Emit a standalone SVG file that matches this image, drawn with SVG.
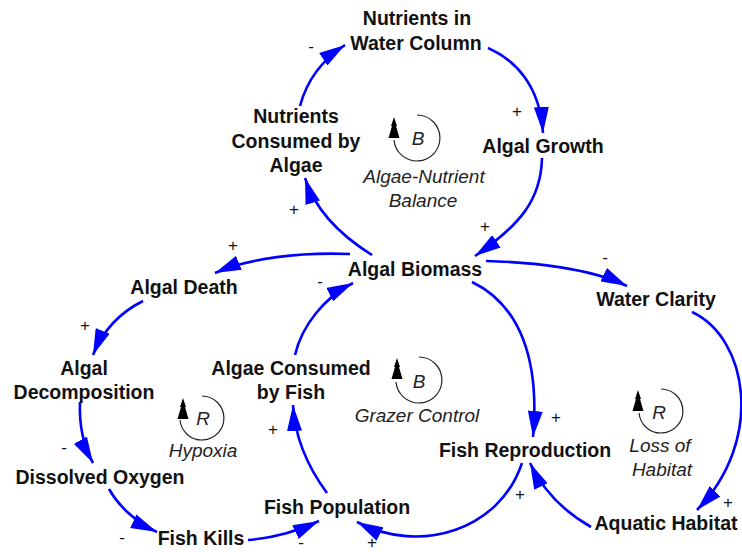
<svg xmlns="http://www.w3.org/2000/svg" width="742" height="552" viewBox="0 0 742 552">
  <defs>
    <marker id="head" markerUnits="userSpaceOnUse" markerWidth="26" markerHeight="15" viewBox="0 0 26 15" refX="26" refY="7.5" orient="auto">
      <path d="M0,0 L26,7.5 L0,15 Z" fill="#0000ff"/>
    </marker>
    <!-- small black arrow used by the loop markers -->
    <polygon id="loopHead" points="0,0 -3,9 -2,9 -5.5,21 5.5,21 2,9 3,9" fill="#000"/>
  </defs>
  <style>
    .node { font-family: "Liberation Sans", Arial, sans-serif; font-weight: bold; font-size: 19.5px; fill: #111; text-anchor: middle; }
    .loop { font-family: "Liberation Sans", Arial, sans-serif; font-style: italic; font-size: 19px; fill: #222; text-anchor: middle; }
    .sign { font-family: "Liberation Sans", Arial, sans-serif; font-size: 17px; fill: #111; text-anchor: middle; }
    .link { fill: none; stroke: #0000ff; stroke-width: 2.6; marker-end: url(#head); }
    .ring { fill: none; stroke: #222; stroke-width: 1.2; }
  </style>
  <rect width="742" height="552" fill="#fff"/>

  <!-- causal links -->
  <g id="connectors">
    <path class="link" d="M300,106 Q310,68 345,45"/>
    <path class="link" d="M488,48 C515,60 540,85 543,133"/>
    <path class="link" d="M542,158 C541,200 520,225 475,256"/>
    <path class="link" d="M372,255 C340,235 315,210 305,178"/>
    <path class="link" d="M350,254 C300,252 250,258 215,273"/>
    <path class="link" d="M143,301 C125,310 105,325 93,355"/>
    <path class="link" d="M80,402 C79,425 83,445 93,463"/>
    <path class="link" d="M109,489 C118,505 135,522 157,532"/>
    <path class="link" d="M248,540 C275,538 300,530 319,521"/>
    <path class="link" d="M327,493 C310,470 295,440 293,405"/>
    <path class="link" d="M295,355 C302,325 325,297 353,283"/>
    <path class="link" d="M472,282 C520,305 540,360 533,437"/>
    <path class="link" d="M522,463 C500,530 420,555 357,522"/>
    <path class="link" d="M486,261 C530,262 590,268 627,286"/>
    <path class="link" d="M692,312 C748,338 765,440 697,510"/>
    <path class="link" d="M591,527 C570,515 545,495 530,463"/>
  </g>

  <!-- link polarities -->
  <g id="polarities">
    <text class="sign" x="311" y="52">-</text>
    <text class="sign" x="517" y="117">+</text>
    <text class="sign" x="485" y="232">+</text>
    <text class="sign" x="294" y="215">+</text>
    <text class="sign" x="233" y="251">+</text>
    <text class="sign" x="85" y="331">+</text>
    <text class="sign" x="64" y="453">-</text>
    <text class="sign" x="122" y="543">-</text>
    <text class="sign" x="301" y="548">-</text>
    <text class="sign" x="273" y="435">+</text>
    <text class="sign" x="320" y="287">-</text>
    <text class="sign" x="556" y="423">+</text>
    <text class="sign" x="520" y="500">+</text>
    <text class="sign" x="372" y="548">+</text>
    <text class="sign" x="605" y="263">-</text>
    <text class="sign" x="728" y="508">+</text>
  </g>

  <!-- variables -->
  <g id="nutrients-water"><text class="node" x="417" y="25">Nutrients in</text><text class="node" x="416" y="50">Water Column</text></g>
  <g id="nutrients-consumed"><text class="node" x="296" y="123">Nutrients</text><text class="node" x="296" y="148">Consumed by</text><text class="node" x="296" y="172">Algae</text></g>
  <g id="algal-growth"><text class="node" x="543" y="153">Algal Growth</text></g>
  <g id="algal-biomass"><text class="node" x="415" y="276">Algal Biomass</text></g>
  <g id="algal-death"><text class="node" x="184" y="294">Algal Death</text></g>
  <g id="algal-decomposition"><text class="node" x="84" y="375">Algal</text><text class="node" x="84" y="399">Decomposition</text></g>
  <g id="dissolved-oxygen"><text class="node" x="100" y="484">Dissolved Oxygen</text></g>
  <g id="fish-kills"><text class="node" x="201" y="545">Fish Kills</text></g>
  <g id="algae-consumed"><text class="node" x="291" y="375">Algae Consumed</text><text class="node" x="291" y="399">by Fish</text></g>
  <g id="fish-population"><text class="node" x="337" y="514">Fish Population</text></g>
  <g id="water-clarity"><text class="node" x="656" y="306">Water Clarity</text></g>
  <g id="fish-reproduction"><text class="node" x="525" y="457">Fish Reproduction</text></g>
  <g id="aquatic-habitat"><text class="node" x="666" y="530">Aquatic Habitat</text></g>

  <!-- loop identifiers -->
  <g id="loop-balance">
    <path class="ring" d="M417,115 A23,23 0 1 1 394,140"/>
    <use href="#loopHead" x="394" y="117"/>
    <text class="loop" x="418" y="145">B</text>
    <text class="loop" x="424" y="183">Algae-Nutrient</text>
    <text class="loop" x="423" y="207">Balance</text>
  </g>
  <g id="loop-hypoxia">
    <path class="ring" d="M202,396 A22,22 0 1 1 180,420"/>
    <use href="#loopHead" x="183" y="398"/>
    <text class="loop" x="203" y="425">R</text>
    <text class="loop" x="203" y="457">Hypoxia</text>
  </g>
  <g id="loop-grazer">
    <path class="ring" d="M419,357 A23,23 0 1 1 396,382"/>
    <use href="#loopHead" x="397" y="358"/>
    <text class="loop" x="419" y="388">B</text>
    <text class="loop" x="417" y="422">Grazer Control</text>
  </g>
  <g id="loop-habitat">
    <path class="ring" d="M661,389 A22,22 0 1 1 639,413"/>
    <use href="#loopHead" x="638" y="390"/>
    <text class="loop" x="659" y="419">R</text>
    <text class="loop" x="660" y="452">Loss of</text>
    <text class="loop" x="662" y="476">Habitat</text>
  </g>
</svg>
